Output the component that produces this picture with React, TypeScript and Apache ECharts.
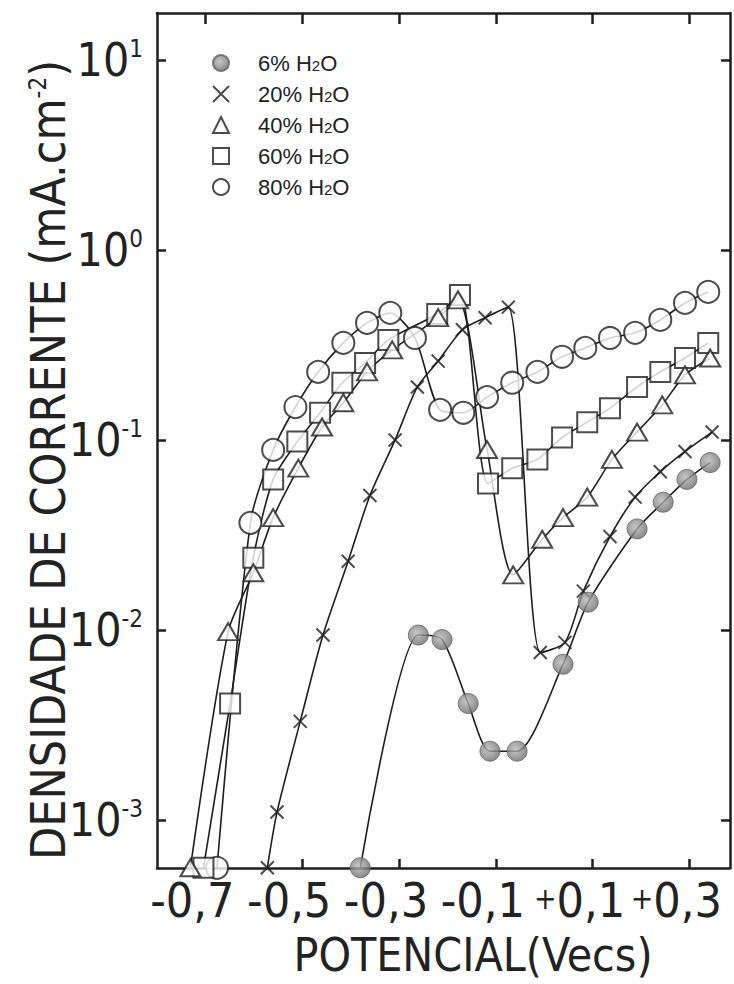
import React, { useEffect, useRef } from "react";
import * as echarts from "echarts";

// Potential (V vs. SCE) and current density (mA/cm2) for each water content
const potential6 = [-0.38, -0.26, -0.211, -0.157, -0.112, -0.056, 0.039, 0.091, 0.192, 0.246, 0.295, 0.343];
const current6 = [0.00056, 0.0094, 0.0089, 0.0041, 0.0023, 0.0023, 0.0066, 0.014, 0.034, 0.047, 0.062, 0.076];

const potential20 = [-0.572, -0.552, -0.504, -0.457, -0.405, -0.36, -0.308, -0.262, -0.219, -0.169, -0.122, -0.074, -0.008, 0.043, 0.081, 0.136, 0.188, 0.24, 0.291, 0.347];
const current20 = [0.00056, 0.0011, 0.0033, 0.0094, 0.023, 0.051, 0.1, 0.19, 0.26, 0.38, 0.44, 0.5, 0.0076, 0.0086, 0.016, 0.031, 0.05, 0.068, 0.087, 0.11];

const potential40 = [-0.731, -0.653, -0.601, -0.56, -0.508, -0.459, -0.415, -0.366, -0.314, -0.219, -0.178, -0.118, -0.064, -0.004, 0.039, 0.089, 0.14, 0.192, 0.244, 0.291, 0.343];
const current40 = [0.00056, 0.0098, 0.02, 0.039, 0.071, 0.117, 0.157, 0.228, 0.298, 0.44, 0.546, 0.089, 0.0195, 0.03, 0.039, 0.05, 0.079, 0.11, 0.153, 0.22, 0.27];

const potential60 = [-0.704, -0.649, -0.601, -0.56, -0.51, -0.463, -0.417, -0.37, -0.322, -0.221, -0.174, -0.116, -0.066, -0.014, 0.037, 0.089, 0.136, 0.192, 0.24, 0.291, 0.339];
const current60 = [0.00056, 0.0041, 0.024, 0.062, 0.098, 0.139, 0.2, 0.254, 0.336, 0.46, 0.58, 0.059, 0.071, 0.079, 0.103, 0.124, 0.147, 0.19, 0.228, 0.27, 0.324];

const potential80 = [-0.676, -0.607, -0.56, -0.514, -0.467, -0.415, -0.366, -0.318, -0.267, -0.215, -0.167, -0.118, -0.066, -0.014, 0.037, 0.085, 0.136, 0.188, 0.24, 0.291, 0.339];
const current80 = [0.00056, 0.0366, 0.0886, 0.149, 0.228, 0.324, 0.413, 0.466, 0.344, 0.144, 0.139, 0.168, 0.2, 0.228, 0.274, 0.305, 0.344, 0.366, 0.428, 0.526, 0.601];

const seriesNames = ["6% H2O", "20% H2O", "40% H2O", "60% H2O", "80% H2O"];

// Axis ticks and labels
const xLabelValues = [-0.7, -0.5, -0.3, -0.1, 0.1, 0.3];
const xBottomTicks = [-0.5, -0.3, -0.1, 0.1, 0.3];
const xTopTicks = [-0.7, -0.5, -0.3, -0.1, 0.1, 0.3];
const decadeExponents = [-3, -2, -1, 0, 1];

const INK = "#1e1e1e";
const NARROW = '"Liberation Sans Narrow", "DejaVu Sans Condensed", "Liberation Sans", sans-serif';
const REGULAR = '"Liberation Sans", Arial, sans-serif';

const toPoints = (v: number[], j: number[]) => v.map((x, i) => [x, Math.log10(j[i])]);

const grayBall = {
  type: "radial",
  x: 0.42,
  y: 0.4,
  r: 0.62,
  colorStops: [
    { offset: 0, color: "#b9b9b9" },
    { offset: 1, color: "#6c6c6c" },
  ],
};

const openStyle = { color: "#ffffff", borderColor: INK, borderWidth: 2 };

const seriesDefs = [
  { name: seriesNames[0], v: potential6, j: current6, symbol: "circle", size: 20, itemStyle: { color: grayBall, borderColor: "#626262", borderWidth: 1 } },
  { name: seriesNames[1], v: potential20, j: current20, symbol: "path://M0,0L10,10M10,0L0,10", size: 13, itemStyle: { color: "transparent", borderColor: INK, borderWidth: 2 } },
  { name: seriesNames[2], v: potential40, j: current40, symbol: "triangle", size: [20, 17], itemStyle: openStyle },
  { name: seriesNames[3], v: potential60, j: current60, symbol: "rect", size: 20, itemStyle: openStyle },
  { name: seriesNames[4], v: potential80, j: current80, symbol: "circle", size: 22, itemStyle: openStyle },
];

const formatPotential = (v: number) => {
  const s = Math.abs(v).toFixed(1).replace(".", ",");
  return v < 0 ? "-" + s : "{p|+}" + s;
};

const legendLabel = (name: string) => {
  const pct = name.split(" ")[0];
  return `{a|${pct} H}{s|2}{t|O}`;
};

export default function App() {
  const ref = useRef<HTMLDivElement>(null);

  useEffect(() => {
    if (!ref.current) return;
    const chart = echarts.init(ref.current, undefined, { renderer: "svg" });

    // markers are drawn in reverse order so triangles sit on top of squares
    const markerSeries = [...seriesDefs].reverse().map((d, k) => ({
      type: "scatter",
      name: d.name,
      data: toPoints(d.v, d.j),
      symbol: d.symbol,
      symbolSize: d.size,
      itemStyle: d.itemStyle,
      clip: false,
      z: 3 + k,
      silent: true,
    }));

    const curveSeries = seriesDefs.map((d) => ({
      type: "line",
      name: d.name,
      data: toPoints(d.v, d.j),
      symbol: "none",
      smooth: 0.25,
      lineStyle: { color: INK, width: 1.6 },
      clip: false,
      z: 2,
      silent: true,
    }));

    const axisLine = { show: true, onZero: false, lineStyle: { color: INK, width: 2.5 } };
    const textRich = { fontFamily: REGULAR, fontSize: 22, color: "#222", lineHeight: 20 };

    chart.setOption({
      animation: false,
      backgroundColor: "#ffffff",
      grid: { left: 157, right: 4, top: 13, bottom: 116 },
      legend: {
        data: seriesNames,
        orient: "vertical",
        left: 212,
        top: 52,
        padding: 0,
        itemWidth: 16,
        itemHeight: 16,
        itemGap: 9,
        selectedMode: false,
        formatter: legendLabel,
        textStyle: {
          color: "#222",
          rich: {
            a: { ...textRich, padding: [0, 0, 0, 24] },
            t: textRich,
            s: { fontFamily: REGULAR, fontSize: 15, color: "#222", lineHeight: 20, padding: [5, 0, 0, 0] },
          },
        },
      },
      xAxis: [
        {
          type: "value",
          position: "bottom",
          min: -0.8,
          max: 0.384,
          axisLine,
          splitLine: { show: false },
          axisTick: { show: true, inside: true, length: 9, customValues: xBottomTicks, lineStyle: { color: INK, width: 2.5 } },
          axisLabel: {
            customValues: xLabelValues,
            formatter: formatPotential,
            fontFamily: NARROW,
            fontSize: 48,
            color: "#222",
            margin: 8,
            padding: [0, 26, 0, 0],
            showMinLabel: true,
            showMaxLabel: true,
            hideOverlap: false,
            rich: { p: { fontFamily: NARROW, fontSize: 30, color: "#222", padding: [0, 0, 4, 0] } },
          },
        },
        {
          type: "value",
          position: "top",
          min: -0.8,
          max: 0.384,
          axisLine,
          splitLine: { show: false },
          axisTick: { show: true, inside: true, length: 11, customValues: xTopTicks, lineStyle: { color: INK, width: 2.5 } },
          axisLabel: { show: false },
        },
      ],
      yAxis: [
        {
          type: "value",
          position: "left",
          min: -3.253,
          max: 1.247,
          axisLine,
          splitLine: { show: false },
          axisTick: { show: true, inside: true, length: 9, customValues: decadeExponents, lineStyle: { color: INK, width: 2.5 } },
          axisLabel: {
            customValues: decadeExponents,
            formatter: (v: number) => `{b|10}{s|${v}}`,
            margin: 14,
            showMinLabel: true,
            showMaxLabel: true,
            rich: {
              b: { fontFamily: NARROW, fontSize: 46, color: "#222" },
              s: { fontFamily: NARROW, fontSize: 24, color: "#222", verticalAlign: "top", padding: [0, 0, 20, 0] },
            },
          },
        },
        {
          type: "value",
          position: "right",
          min: -3.253,
          max: 1.247,
          axisLine,
          splitLine: { show: false },
          axisTick: { show: true, inside: true, length: 9, customValues: decadeExponents, lineStyle: { color: INK, width: 2.5 } },
          axisLabel: { show: false },
        },
      ],
      graphic: [
        {
          type: "text",
          x: 48,
          y: 460,
          rotation: Math.PI / 2,
          style: {
            text: "{t|DENSIDADE DE CORRENTE (mA.cm}{s|-2}{t|)}",
            align: "center",
            verticalAlign: "middle",
            rich: {
              t: { fontFamily: NARROW, fontSize: 48, fill: "#222" },
              s: { fontFamily: NARROW, fontSize: 24, fill: "#222", padding: [0, 0, 20, 0] },
            },
          },
        },
        {
          type: "text",
          x: 473,
          y: 955,
          style: {
            text: "POTENCIAL(Vecs)",
            align: "center",
            verticalAlign: "middle",
            fontFamily: NARROW,
            fontSize: 46,
            fill: "#222",
          },
        },
      ],
      series: [...markerSeries, ...curveSeries],
    });

    return () => chart.dispose();
  }, []);

  return <div ref={ref} style={{ width: 734, height: 984, position: "absolute", left: 0, top: 0 }} />;
}
